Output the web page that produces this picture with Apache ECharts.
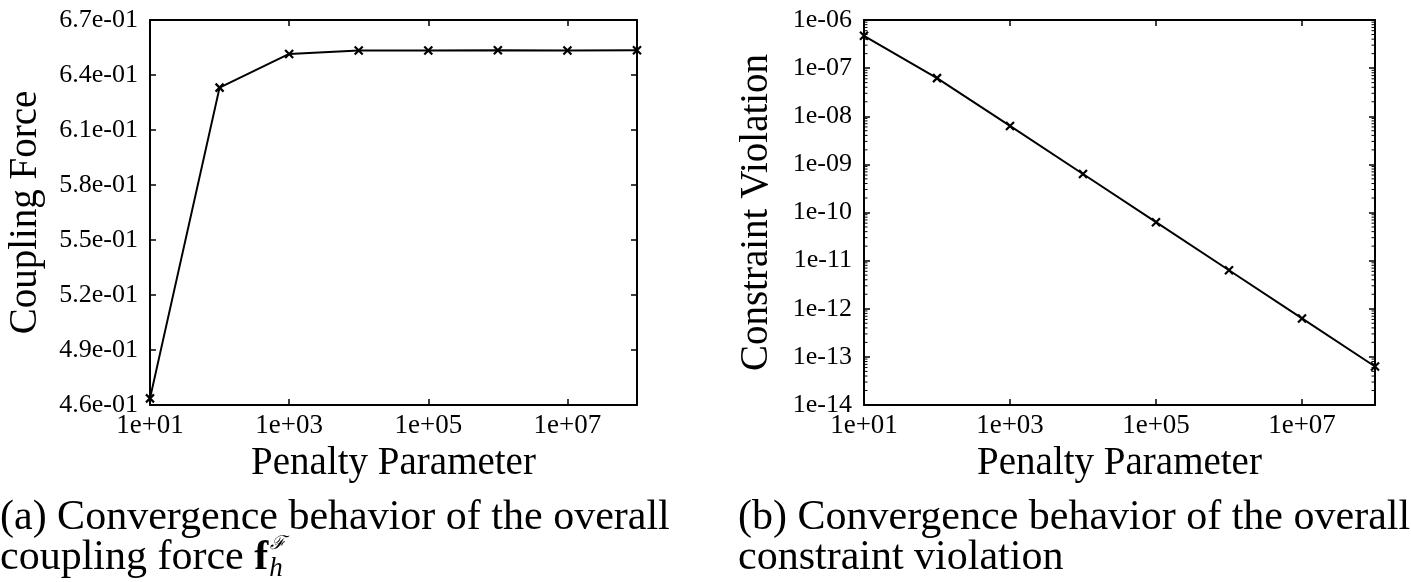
<!DOCTYPE html>
<html><head><meta charset="utf-8">
<script src="https://cdn.jsdelivr.net/npm/echarts@6/dist/echarts.min.js"></script>
<style>html,body{margin:0;padding:0;background:#fff}#c{width:1411px;height:582px}</style>
</head><body><div id="c"></div>
<script>
// ---- data ----
const penalty = [1e1, 1e2, 1e3, 1e4, 1e5, 1e6, 1e7, 1e8];
const couplingForce = [0.4636, 0.6331, 0.6515, 0.6534, 0.6534, 0.6535, 0.6534, 0.6535];
const violation = [4.7e-7, 6.2e-8, 6.3e-9, 6.3e-10, 6.3e-11, 6.3e-12, 6.3e-13, 6.3e-14];
const xTicks = [1e1, 1e3, 1e5, 1e7];
const forceTicks = [0.46, 0.49, 0.52, 0.55, 0.58, 0.61, 0.64, 0.67];
const violationTicks = [1e-14, 1e-13, 1e-12, 1e-11, 1e-10, 1e-9, 1e-8, 1e-7, 1e-6];
const minorMultipliers = [2, 3, 4, 5, 6, 7, 8, 9];
const violationMinor = [];
violationTicks.slice(0, -1).forEach(d => minorMultipliers.forEach(m => violationMinor.push(+(m * d).toPrecision(3))));

const FONT = "'Liberation Serif', 'Times New Roman', serif";
const pad2 = n => String(n).padStart(2, '0');
const fmtX = v => '1e+' + pad2(Math.round(Math.log10(v)));
const fmtLogY = v => '1e-' + pad2(-Math.round(Math.log10(v)));
const fmtForce = v => (+v).toExponential(1).replace(/e([+-])(\d)$/, 'e$10$2');

const line = {show: true, lineStyle: {color: '#000', width: 2}};
const tickCol = {color: '#000', width: 1.5};
const xLabelStyle = {color: '#000', fontFamily: FONT, fontSize: 27};
const yLabelStyle = {color: '#000', fontFamily: FONT, fontSize: 26};
const nameStyle = {color: '#000', fontFamily: FONT, fontSize: 39};

function xAx(grid, pos, main) {
  return {
    type: 'log', gridIndex: grid, position: pos, min: 1e1, max: 1e8, logBase: 10,
    axisLine: line,
    axisTick: {show: true, inside: true, length: 6, lineStyle: tickCol, customValues: xTicks},
    axisLabel: {show: main, margin: 7, ...xLabelStyle, formatter: fmtX, customValues: xTicks},
    splitLine: {show: false}, minorTick: {show: false},
    name: main ? 'Penalty Parameter' : '', nameLocation: 'middle', nameGap: 24, nameTextStyle: nameStyle
  };
}
function yForce(pos, main) {
  return {
    type: 'value', gridIndex: 0, position: pos, min: 0.46, max: 0.67,
    axisLine: line,
    axisTick: {show: true, inside: true, length: 6, lineStyle: tickCol, customValues: forceTicks},
    axisLabel: {show: main, margin: 12, ...yLabelStyle, formatter: fmtForce, customValues: forceTicks},
    splitLine: {show: false},
    name: main ? 'Coupling Force' : '', nameLocation: 'middle', nameGap: 105, nameTextStyle: nameStyle
  };
}
function yViol(pos, main) {
  return {
    type: 'log', gridIndex: 1, position: pos, min: 1e-14, max: 1e-6, logBase: 10,
    axisLine: line,
    axisTick: {show: true, inside: true, length: 6, lineStyle: tickCol, customValues: violationTicks},
    axisLabel: {show: main, margin: 12, ...yLabelStyle, formatter: fmtLogY, customValues: violationTicks},
    splitLine: {show: false},
    name: main ? 'Constraint Violation' : '', nameLocation: 'middle', nameGap: 88, nameTextStyle: nameStyle
  };
}

const cross = 'path://M0,0L10,10M10,0L0,10';
function lineSeries(xi, yi, vals) {
  return {
    type: 'line', xAxisIndex: xi, yAxisIndex: yi, clip: false, z: 3,
    data: penalty.map((p, i) => [p, vals[i]]),
    symbol: cross, symbolSize: 8, showAllSymbol: true,
    itemStyle: {color: '#000', borderColor: '#000', borderWidth: 2.2},
    lineStyle: {color: '#000', width: 2}
  };
}

// minor ticks of the log y-axis (drawn through the axis scale)
const minorTickSeries = {
  type: 'custom', xAxisIndex: 2, yAxisIndex: 2, clip: false, silent: true, z: 1,
  data: violationMinor.map(v => [penalty[0], v]),
  renderItem: function (params, api) {
    const v = api.value(1);
    const pL = api.coord([penalty[0], v]);
    const pR = api.coord([penalty[penalty.length - 1], v]);
    const st = {stroke: '#000', lineWidth: 1};
    return {type: 'group', children: [
      {type: 'line', shape: {x1: pL[0], y1: pL[1], x2: pL[0] + 3.5, y2: pL[1]}, style: st},
      {type: 'line', shape: {x1: pR[0], y1: pR[1], x2: pR[0] - 3.5, y2: pR[1]}, style: st}
    ]};
  }
};

const chart = echarts.init(document.getElementById('c'), null, {renderer: 'canvas'});

// caption helpers
const capSize = 42;
const capFont = capSize + 'px ' + FONT;
const ctx = document.createElement('canvas').getContext('2d');
ctx.font = capFont;
const cap2a = 'coupling force ';
const wA = ctx.measureText(cap2a).width;
ctx.font = 'bold ' + capFont;
const wF = ctx.measureText('f').width;

chart.setOption({
  animation: false,
  backgroundColor: '#fff',
  grid: [
    {left: 150, right: 774, top: 20, bottom: 177, outerBoundsMode: 'none', containLabel: false},
    {left: 864, right: 36, top: 20, bottom: 177, outerBoundsMode: 'none', containLabel: false}
  ],
  xAxis: [xAx(0, 'bottom', true), xAx(0, 'top', false), xAx(1, 'bottom', true), xAx(1, 'top', false)],
  yAxis: [yForce('left', true), yForce('right', false), yViol('left', true), yViol('right', false)],
  series: [lineSeries(0, 0, couplingForce), lineSeries(2, 2, violation), minorTickSeries],
  graphic: [
    {type: 'text', left: 0, top: 497, style: {text: '(a) Convergence behavior of the overall', font: capFont, fill: '#000'}},
    {type: 'text', left: 0, top: 537, style: {text: cap2a, font: capFont, fill: '#000'}},
    {type: 'text', left: wA, top: 537, style: {text: 'f', font: 'bold ' + capFont, fill: '#000'}},
    {type: 'text', left: wA + wF + 1, top: 555, style: {text: 'h', font: 'italic 27px ' + FONT, fill: '#000'}},
    {type: 'text', left: wA + wF + 2, top: 534, style: {text: 'ℱ', font: 'italic 19px ' + FONT, fill: '#000'}},
    {type: 'text', left: 738, top: 497, style: {text: '(b) Convergence behavior of the overall', font: capFont, fill: '#000'}},
    {type: 'text', left: 738, top: 537, style: {text: 'constraint violation', font: capFont, fill: '#000'}}
  ]
});
</script></body></html>
